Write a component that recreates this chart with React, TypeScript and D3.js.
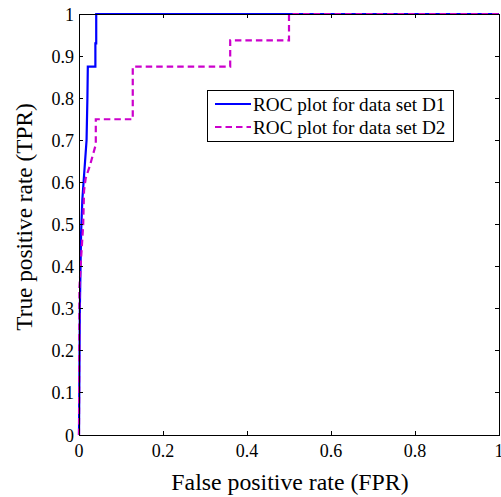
import React from "react";
import * as d3 from "d3";

const xTicks = [0, 0.2, 0.4, 0.6, 0.8, 1];
const xTickLabels = ["0", "0.2", "0.4", "0.6", "0.8", "1"];
const yTicks = [0, 0.1, 0.2, 0.3, 0.4, 0.5, 0.6, 0.7, 0.8, 0.9, 1];
const yTickLabels = ["0", "0.1", "0.2", "0.3", "0.4", "0.5", "0.6", "0.7", "0.8", "0.9", "1"];

const d1FPR = [0, 0.002, 0.005, 0.008, 0.018, 0.02, 0.021, 0.039, 0.039, 0.041, 0.041, 1];
const d1TPR = [0, 0.3, 0.48, 0.56, 0.7, 0.8, 0.875, 0.875, 0.93, 0.93, 1, 1];

const d2FPR = [0, 0.001, 0.005, 0.01, 0.012, 0.016, 0.026, 0.04, 0.04, 0.128, 0.128, 0.36, 0.36, 0.5, 0.5, 1];
const d2TPR = [0, 0.35, 0.42, 0.5, 0.58, 0.61, 0.64, 0.69, 0.75, 0.75, 0.875, 0.875, 0.9375, 0.9375, 1, 1];

const seriesNames = ["ROC plot for data set D1", "ROC plot for data set D2"];
const seriesColors = ["#0000ff", "#cc00cc"];

const W = 501;
const H = 497;
const M = { left: 79, right: 499, top: 14, bottom: 435 };
const FONT = "'Liberation Serif', 'Times New Roman', serif";

export default function App() {
  const x = d3.scaleLinear().domain([0, 1]).range([M.left, M.right]);
  const y = d3.scaleLinear().domain([0, 1]).range([M.bottom, M.top]);
  const line = d3
    .line<[number, number]>()
    .x((d) => x(d[0]))
    .y((d) => y(d[1]));
  const d1 = d1FPR.map((v, i) => [v, d1TPR[i]] as [number, number]);
  const d2 = d2FPR.map((v, i) => [v, d2TPR[i]] as [number, number]);
  const tl = 4;

  return (
    <svg
      width={W}
      height={H}
      style={{ position: "absolute", left: 0, top: 0 }}
      fontFamily={FONT}
    >
      <rect x={0} y={0} width={W} height={H} fill="#fff" />
      <defs>
        <clipPath id="clip">
          <rect x={M.left - 2} y={M.top - 2} width={M.right - M.left + 4} height={M.bottom - M.top + 4} />
        </clipPath>
      </defs>
      <g clipPath="url(#clip)">
        <path d={line(d1) || ""} fill="none" stroke={seriesColors[0]} strokeWidth={2.2} />
        <path d={line(d2) || ""} fill="none" stroke={seriesColors[1]} strokeWidth={2.2} strokeDasharray="6.5,4" />
      </g>
      <rect
        x={M.left}
        y={M.top}
        width={M.right - M.left}
        height={M.bottom - M.top}
        fill="none"
        stroke="#000"
        strokeWidth={1}
        shapeRendering="crispEdges"
      />
      {xTicks.map((t, i) => (
        <g key={"x" + i}>
          <line x1={x(t)} x2={x(t)} y1={M.bottom} y2={M.bottom - tl} stroke="#000" shapeRendering="crispEdges" />
          <line x1={x(t)} x2={x(t)} y1={M.top} y2={M.top + tl} stroke="#000" shapeRendering="crispEdges" />
          <text x={x(t)} y={M.bottom + 22} fontSize={18} textAnchor="middle" fill="#000">
            {xTickLabels[i]}
          </text>
        </g>
      ))}
      {yTicks.map((t, i) => (
        <g key={"y" + i}>
          <line x1={M.left} x2={M.left + tl} y1={y(t)} y2={y(t)} stroke="#000" shapeRendering="crispEdges" />
          <line x1={M.right} x2={M.right - tl} y1={y(t)} y2={y(t)} stroke="#000" shapeRendering="crispEdges" />
          <text x={M.left - 5} y={y(t) + 6.5} fontSize={18} textAnchor="end" fill="#000">
            {yTickLabels[i]}
          </text>
        </g>
      ))}
      <text x={290} y={490} fontSize={23.8} textAnchor="middle" fill="#000">
        False positive rate (FPR)
      </text>
      <text
        transform={`translate(32, 217) rotate(-90)`}
        fontSize={23.3}
        textAnchor="middle"
        fill="#000"
      >
        True positive rate (TPR)
      </text>
      <g>
        <rect x={207.5} y={90.5} width={246} height={51} fill="#fff" stroke="#000" strokeWidth={1} />
        {seriesNames.map((n, i) => (
          <g key={n}>
            <line
              x1={215}
              x2={251}
              y1={104 + i * 23}
              y2={104 + i * 23}
              stroke={seriesColors[i]}
              strokeWidth={2.2}
              strokeDasharray={i === 1 ? "6.5,4" : undefined}
            />
            <text x={253} y={104 + i * 23 + 6.5} fontSize={19.2} fill="#000">
              {n}
            </text>
          </g>
        ))}
      </g>
    </svg>
  );
}
